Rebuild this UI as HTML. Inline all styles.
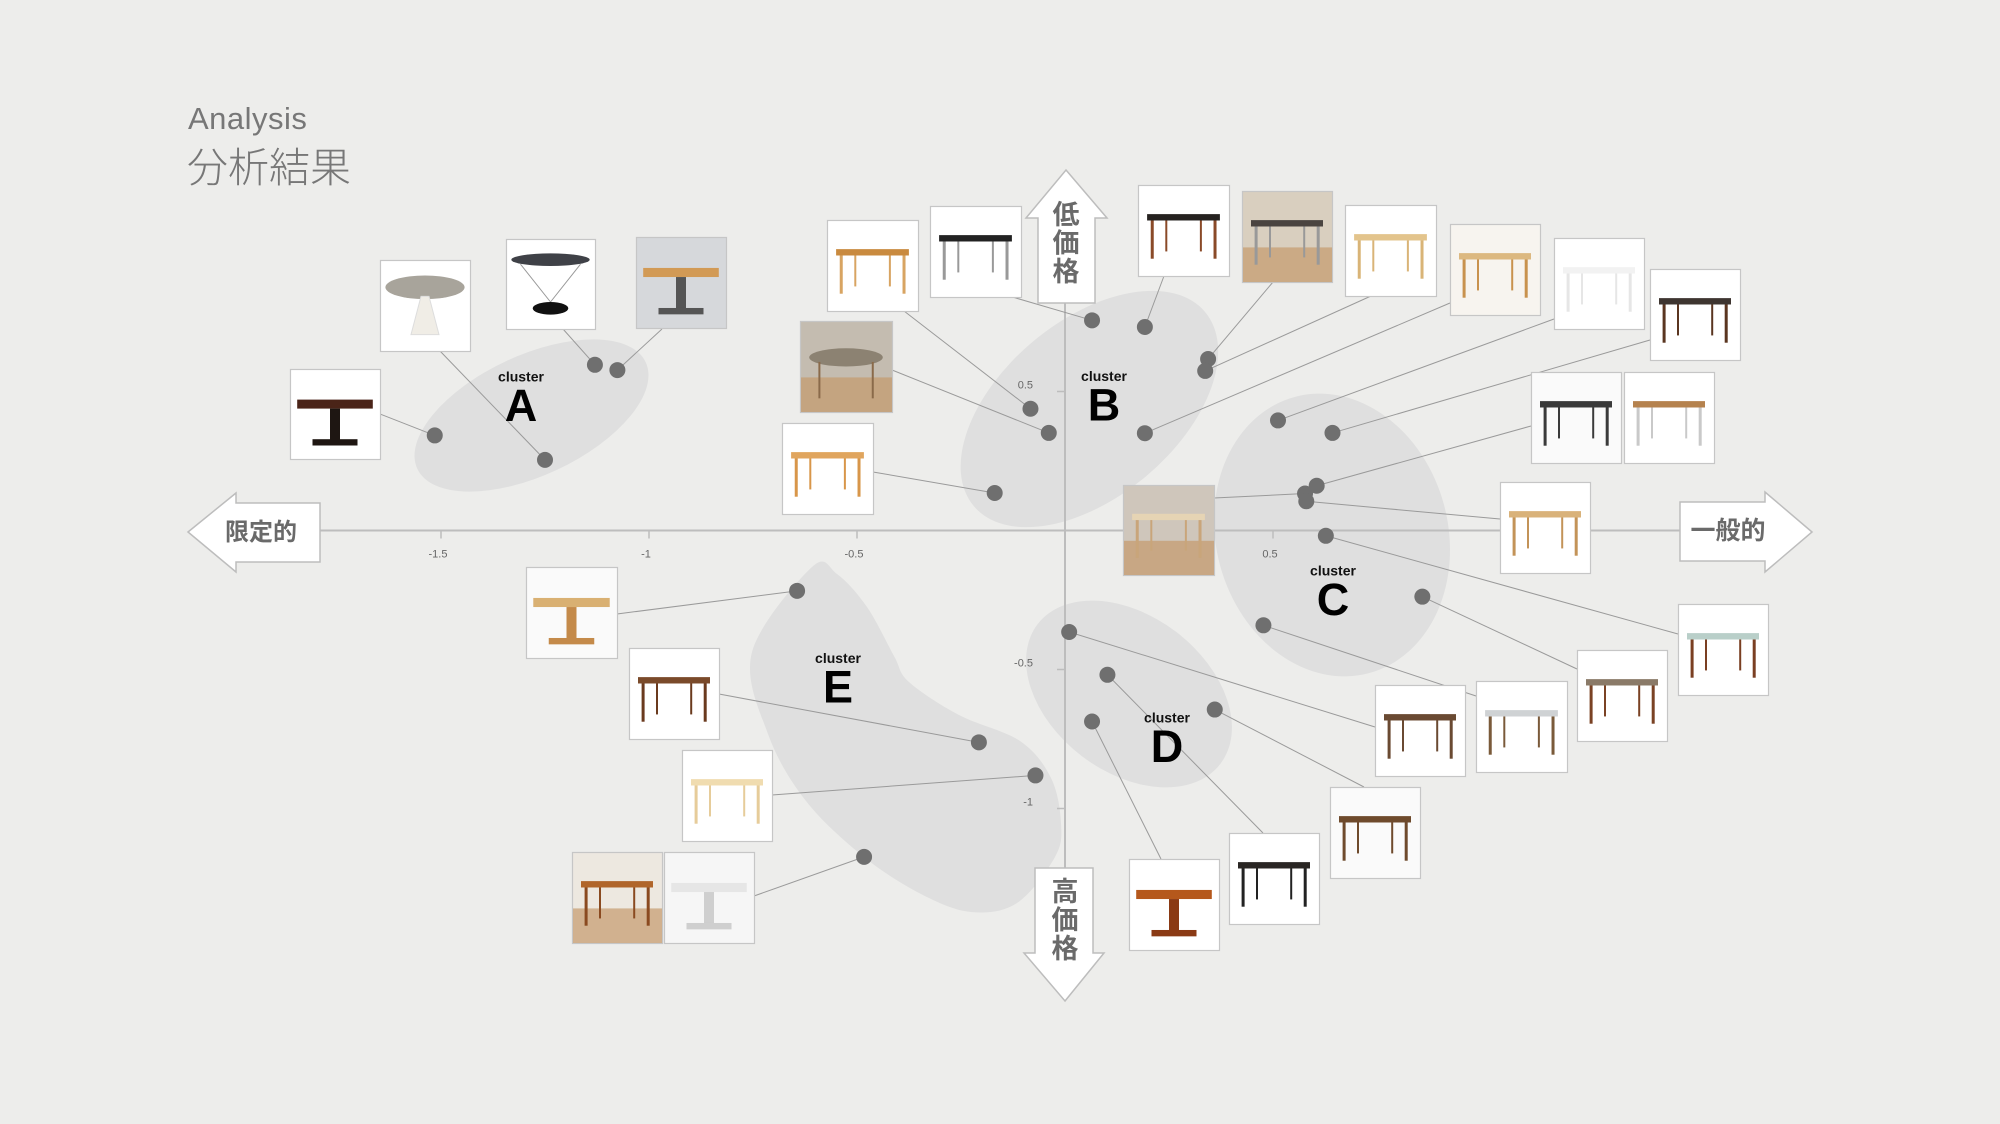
<!DOCTYPE html>
<html><head><meta charset="utf-8">
<style>
html,body{margin:0;padding:0;background:#ededeb;}
#wrap{position:relative;width:2000px;height:1124px;overflow:hidden;background:#ededeb;font-family:"Liberation Sans","Noto Sans CJK JP",sans-serif;}
.t1{position:absolute;left:188px;top:101px;font-size:31px;color:#777;letter-spacing:0.5px;}
.t2{position:absolute;left:187px;top:140px;font-size:41px;color:#777;font-family:"Noto Sans CJK JP",sans-serif;font-weight:300;line-height:48px;}
</style></head>
<body>
<div id="wrap">
<div class="t1">Analysis</div>
<div class="t2">分析結果</div>
<svg id="chart" width="2000" height="1124" style="position:absolute;left:0;top:0"></svg>
</div>
<script>
// ---- data (axis units) ----
const clusterNames = ["A","B","C","D","E"];
const pointCluster = ["A","A","A","A","B","B","B","B","B","B","B","B","C","C","C","C","C","C","C","C","D","D","D","D","E","E","E","E"];
const pointX = [-1.515,-1.250,-1.130,-1.076, 0.065,0.192,0.344,0.337,-0.083,-0.039,0.192,-0.169, 0.512,0.643,0.605,0.577,0.580,0.627,0.477,0.859, 0.010,0.102,0.065,0.360, -0.644,-0.207,-0.071,-0.483];
const pointY = [0.342,0.254,0.596,0.577, 0.756,0.732,0.617,0.574,0.438,0.351,0.350,0.135, 0.396,0.351,0.161,0.133,0.105,-0.019,-0.341,-0.238, -0.365,-0.519,-0.687,-0.644, -0.217,-0.762,-0.881,-1.174];
const xTicks = [-1.5,-1,-0.5,0.5];
const xTickLabels = ["-1.5","-1","-0.5","0.5"];
const yTicks = [0.5,-0.5,-1];
const yTickLabels = ["0.5","-0.5","-1"];

// ---- scales ----
const X0=1065, XU=416, Y0=530.5, YU=278;
const xs = v => X0 + v*XU;
const ys = v => Y0 - v*YU;

const svg = document.getElementById('chart');
const NS='http://www.w3.org/2000/svg';
function mk(tag, attrs, parent){const e=document.createElementNS(NS,tag);for(const k in attrs)e.setAttribute(k,attrs[k]);(parent||svg).appendChild(e);return e;}

// ---- cluster shapes ----
const gCl = mk('g',{});


const ellipses = [
 {n:'A',cx:531.5,cy:415.5,rx:126,ry:60,rot:-25},
 {n:'B',cx:1089.4,cy:409,rx:151,ry:88,rot:-40},
 {n:'C',cx:1332,cy:535,rx:116,ry:143,rot:-15},
 {n:'D',cx:1129,cy:694,rx:115,ry:78,rot:37.4}
];
ellipses.forEach(c=>{
 const e=mk('ellipse',{cx:c.cx,cy:c.cy,rx:c.rx,ry:c.ry,transform:`rotate(${c.rot} ${c.cx} ${c.cy})`,fill:'#dfdfdf'},gCl);
 
 
});
// blob E
const blob=[[812,567],[752,652],[768,734],[806,801],[864,857],[921,894],[971,912],[1017,903],[1055,857],[1061,823],[1051,778],[1020,741],[959,715],[909,682],[894,656],[867,607],[837,574]];
function catmull(p){let d=`M${p[0][0]},${p[0][1]}`;const n=p.length;for(let i=0;i<n;i++){const p0=p[(i-1+n)%n],p1=p[i],p2=p[(i+1)%n],p3=p[(i+2)%n];
 const c1=[p1[0]+(p2[0]-p0[0])/6,p1[1]+(p2[1]-p0[1])/6],c2=[p2[0]-(p3[0]-p1[0])/6,p2[1]-(p3[1]-p1[1])/6];
 d+=`C${c1[0]},${c1[1]} ${c2[0]},${c2[1]} ${p2[0]},${p2[1]}`;}return d+'Z';}
const eb=mk('path',{d:catmull(blob),fill:'#dfdfdf'},gCl);



// ---- axes ----
const ax=mk('line',{x1:320,y1:Y0,x2:1680,y2:Y0,stroke:'#bdbdbd','stroke-width':2});


const ay=mk('line',{x1:X0,y1:303,x2:X0,y2:868,stroke:'#bdbdbd','stroke-width':2});


xTicks.forEach((v,i)=>{
 mk('line',{x1:xs(v),y1:Y0,x2:xs(v),y2:Y0+8,stroke:'#bdbdbd','stroke-width':1.5});
 const t=mk('text',{x:xs(v)-3,y:Y0+27,'font-size':11,fill:'#666','text-anchor':'middle','font-family':'Liberation Sans'});
 t.textContent=xTickLabels[i];
 
 
});
yTicks.forEach((v,i)=>{
 mk('line',{x1:X0-8,y1:ys(v),x2:X0,y2:ys(v),stroke:'#bdbdbd','stroke-width':1.5});
 const t=mk('text',{x:X0-32,y:ys(v)-3,'font-size':11,fill:'#666','text-anchor':'end','font-family':'Liberation Sans'});
 t.textContent=yTickLabels[i];
 
 
});

// ---- image cards (layout) ----
// [x,y,w,h,bg,topColor,legColor,kind,anchorX,anchorY,pointIndex]
const cards=[
 [290,369,90,90,'#fff','#4a2418','#1e1612','ped',380,414,0],
 [380,260,90,91,'#fff','#a8a49b','#f0ede6','tulip',440,351,1],
 [506,239,89,90,'#fff','#3f4147','#555','cyc',563,329,2],
 [636,237,90,91,'#d6d8db','#d29a55','#555','ped',662,329,3],
 [827,220,91,91,'#fff','#c98a3f','#d8a462','rect',904,311,8],
 [930,206,91,91,'#fff','#222','#999','rect',1009,296,4],
 [800,321,92,91,'#c4bcb0','#8c8272','#8a6a4a','oval',892,370,9],
 [782,423,91,91,'#fff','#e0a55e','#d8964a','rect',873,472,11],
 [1138,185,91,91,'#fff','#262220','#8a4a28','rect',1164,276,5],
 [1242,191,90,91,'#d9cfbf','#4a4440','#999','rect',1273,282,6],
 [1345,205,91,91,'#fff','#e3c48c','#d9b477','rect',1371,296,7],
 [1450,224,90,91,'#f7f4ef','#dcb880','#c8924e','rect',1450,303,10],
 [1554,238,90,91,'#fff','#f2f2f2','#e6e6e6','rect',1554,319,12],
 [1650,269,90,91,'#fff','#3e3530','#5a3520','rect',1650,340,13],
 [1531,372,90,91,'#fafafa','#3a3a3a','#3a3a3a','rect',1531,426,14],
 [1624,372,90,91,'#fff','#b5824e','#c9c9c9','rect',-1,-1,-1],
 [1123,485,91,90,'#cfc6bb','#e6d4b4','#c9a57a','rect',1214,498,15],
 [1500,482,90,91,'#fff','#d9b27a','#c39358','rect',1500,519,16],
 [1678,604,90,91,'#fff','#b9cfc9','#7a3f22','rect',1678,634,17],
 [1577,650,90,91,'#fff','#8a7a68','#7a4224','rect',1577,669,19],
 [1375,685,90,91,'#fff','#6a4a32','#6a4a32','rect',1375,727,20],
 [1476,681,91,91,'#fff','#cfd2d4','#7a5a3a','rect',1476,696,18],
 [1330,787,90,91,'#fafafa','#6e4a2c','#6e4a2c','rect',1364,787,23],
 [1229,833,90,91,'#fff','#2a2624','#222','rect',1263,833,21],
 [1129,859,90,91,'#fff','#b5581c','#8a3a14','ped',1161,859,22],
 [526,567,91,91,'#fafafa','#d9b072','#c48a4a','ped',617,614,24],
 [629,648,90,91,'#fff','#7a4a2a','#6a3a1e','rect',719,694,25],
 [682,750,90,91,'#fff','#f0dcb0','#e6cc9a','rect',772,795,26],
 [572,852,90,91,'#ede8e0','#b0652a','#8a4a20','rect',-1,-1,-1],
 [664,852,90,91,'#f6f6f6','#e6e6e6','#cfcfcf','ped',754,896,27]
];

// leader lines
const gL=mk('g',{});


cards.forEach(c=>{
 if(c[10]<0)return;
 const i=c[10];
 const l=mk('line',{x1:xs(pointX[i]),y1:ys(pointY[i]),x2:c[8],y2:c[9],stroke:'#9a9a9a','stroke-width':1},gL);
 
 
});

// cards
cards.forEach((c,k)=>{
 const [x,y,w,h,bg,top,leg,kind]=c;
 const g=mk('g',{});
 
 
 mk('rect',{x:x+0.5,y:y+0.5,width:w,height:h,fill:bg,stroke:'#c6c6c6','stroke-width':1.2},g);
 if(bg!=='#fff'&&bg!=='#fafafa'&&bg!=='#f7f4ef'&&bg!=='#f6f6f6'&&k!==3)
   mk('rect',{x:x+1,y:y+h*0.62,width:w-1,height:h*0.38,fill:'#c49a6c',opacity:0.7},g);
 const cx=x+w/2;
 if(kind==='rect'){
  mk('rect',{x:x+w*0.1,y:y+h*0.32,width:w*0.8,height:h*0.07,fill:top},g);
  mk('rect',{x:x+w*0.14,y:y+h*0.39,width:3,height:h*0.42,fill:leg},g);
  mk('rect',{x:x+w*0.83,y:y+h*0.39,width:3,height:h*0.42,fill:leg},g);
  mk('rect',{x:x+w*0.3,y:y+h*0.39,width:2,height:h*0.34,fill:leg},g);
  mk('rect',{x:x+w*0.68,y:y+h*0.39,width:2,height:h*0.34,fill:leg},g);
 } else if(kind==='ped'){
  mk('rect',{x:x+w*0.08,y:y+h*0.34,width:w*0.84,height:h*0.1,fill:top},g);
  mk('rect',{x:cx-5,y:y+h*0.44,width:10,height:h*0.36,fill:leg},g);
  mk('rect',{x:cx-w*0.25,y:y+h*0.78,width:w*0.5,height:h*0.07,fill:leg},g);
 } else if(kind==='tulip'){
  mk('ellipse',{cx:cx,cy:y+h*0.3,rx:w*0.44,ry:h*0.13,fill:top},g);
  mk('path',{d:`M${cx-4},${y+h*0.4} L${cx+4},${y+h*0.4} L${cx+14},${y+h*0.82} L${cx-14},${y+h*0.82}Z`,fill:leg,stroke:'#ddd'},g);
 } else if(kind==='cyc'){
  mk('ellipse',{cx:cx,cy:y+h*0.23,rx:w*0.44,ry:h*0.07,fill:top},g);
  mk('path',{d:`M${cx-30},${y+h*0.28} L${cx},${y+h*0.7} L${cx+30},${y+h*0.28}`,fill:'none',stroke:'#999'},g);
  mk('ellipse',{cx:cx,cy:y+h*0.77,rx:w*0.2,ry:h*0.07,fill:'#111'},g);
 } else if(kind==='oval'){
  mk('ellipse',{cx:cx,cy:y+h*0.4,rx:w*0.4,ry:h*0.1,fill:top},g);
  mk('rect',{x:x+w*0.2,y:y+h*0.45,width:2,height:h*0.4,fill:leg},g);
  mk('rect',{x:x+w*0.78,y:y+h*0.45,width:2,height:h*0.4,fill:leg},g);
 }
});

// points
const gP=mk('g',{});


pointX.forEach((v,i)=>{
 const c=mk('circle',{cx:xs(v),cy:ys(pointY[i]),r:8,fill:'#6f6f6f'},gP);
 
 
});

// cluster labels
const labels=[['A',521,376.7,421],['B',1104,376,420.7],['C',1333,570.7,615],['D',1167,717.3,762],['E',838,658,702.4]];
labels.forEach(l=>{
 const t1=mk('text',{x:l[1],y:l[2]+5,'font-size':14,'font-weight':'bold',fill:'#111','text-anchor':'middle'});
 t1.textContent='cluster';
 
 
 const t2=mk('text',{x:l[1],y:l[3],'font-size':45,'font-weight':'bold',fill:'#000','text-anchor':'middle'});
 t2.textContent=l[0];
 
 
});

// direction arrows
function arrow(d,name){const p=mk('path',{d:d,fill:'#fff',stroke:'#bdbdbd','stroke-width':1.5});
 
 }
arrow('M188,532 L236,493 L236,503 L320,503 L320,562 L236,562 L236,572Z','arrow-left');
arrow('M1812,532 L1765,492 L1765,502 L1680,502 L1680,561 L1765,561 L1765,572Z','arrow-right');
arrow('M1066,170 L1107,218 L1095,218 L1095,303 L1038,303 L1038,218 L1026,218Z','arrow-up');
arrow('M1065,1001 L1104,953 L1093,953 L1093,868 L1035,868 L1035,953 L1024,953Z','arrow-down');
function atext(s,x,y,size,name){const t=mk('text',{x:x,y:y,'font-size':size,'font-weight':'bold',fill:'#6a6a6a','text-anchor':'middle','font-family':'Noto Sans CJK JP, sans-serif'});t.textContent=s;
 
 }
atext('限定的',261,540,24,'axis-label-limited');
atext('一般的',1728,539,25,'axis-label-general');
['低','価','格'].forEach((c,i)=>atext(c,1066,224+i*28.5,27,'axis-label-low-price'));
['高','価','格'].forEach((c,i)=>atext(c,1065,901+i*28.5,27,'axis-label-high-price'));
</script>
</body></html>
